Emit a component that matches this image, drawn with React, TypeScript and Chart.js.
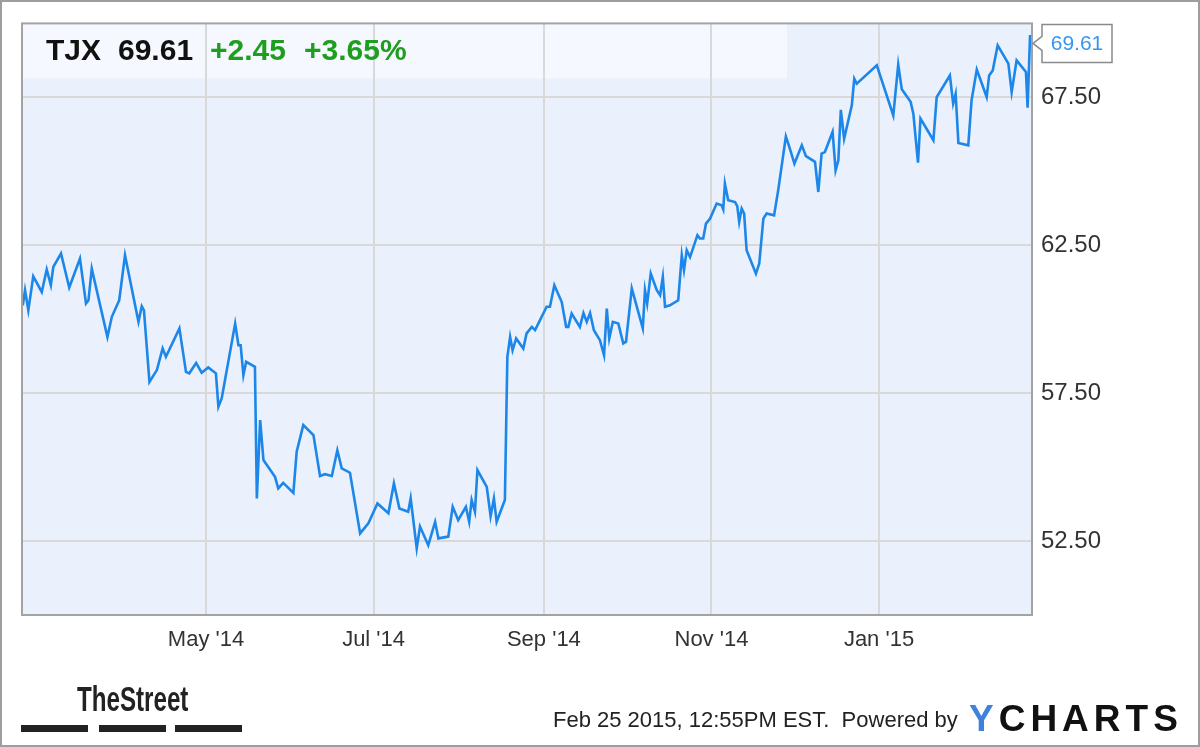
import React, { useEffect, useRef } from "react";
import { Chart, registerables } from "chart.js";

Chart.register(...registerables);

// ---- data ----
const TICKER = "TJX";
const LAST_PRICE = "69.61";
const CHANGE = "+2.45";
const CHANGE_PCT = "+3.65%";
const FOOTER_TEXT = "Feb 25 2015, 12:55PM EST.  Powered by";

// trading-day positions, in days since 2014-01-01
const days = [
  53.3, 54.1, 55.3, 57.1, 60.2, 62.0, 63.5, 64.4, 67.2, 70.2,
  74.1, 76.3, 77.2, 78.4, 84.1, 85.7, 88.4, 90.5, 95.4, 96.6,
  97.4, 99.4, 102.1, 104.2, 105.4, 110.3, 112.7, 113.9, 116.4, 118.4,
  120.8, 123.6, 124.5, 125.7, 130.6, 131.8, 132.6, 133.6, 134.6, 137.8,
  138.5, 139.7, 140.9, 145.1, 146.3, 148.1, 151.8, 153.0, 155.4, 159.1,
  161.5, 163.3, 165.8, 167.8, 169.4, 172.4, 176.1, 179.1, 182.4, 186.4,
  188.4, 190.4, 193.6, 194.5, 196.7, 197.9, 200.9, 203.4, 204.6, 208.2,
  209.8, 211.8, 214.6, 215.8, 216.7, 217.9, 218.8, 222.2, 223.6, 224.8,
  225.8, 228.8, 229.7, 230.7, 231.6, 232.9, 235.5, 236.7, 238.6, 239.8,
  244.0, 245.2, 246.8, 249.5, 251.1, 251.9, 253.1, 256.1, 257.4, 258.6,
  259.8, 261.2, 263.4, 264.9, 265.9, 266.8, 268.1, 270.1, 271.9, 272.9,
  275.0, 279.0, 279.8, 280.6, 281.9, 284.1, 285.3, 286.3, 287.1, 288.9,
  291.9, 293.2, 294.0, 295.0, 296.2, 298.9, 299.8, 301.0, 302.0, 303.5,
  305.9, 307.7, 308.3, 308.9, 310.1, 312.6, 313.4, 314.1, 315.0, 315.9,
  316.8, 320.2, 321.4, 322.9, 324.1, 326.8, 328.3, 331.1, 332.6, 334.2,
  336.9, 338.4, 341.7, 342.9, 344.1, 345.3, 348.1, 349.2, 350.2, 351.1,
  352.3, 355.1, 356.0, 356.9, 364.2, 370.2, 372.0, 373.3, 376.5, 377.5,
  379.2, 380.1, 384.8, 386.0, 390.8, 392.0, 392.9, 393.9, 397.5, 398.7,
  400.6, 404.2, 405.1, 406.4, 408.2, 412.1, 413.3, 415.1, 418.5, 419.1,
  420.0,
];

const prices = [
  60.47, 60.98, 60.30, 61.45, 60.92, 61.68, 61.15, 61.77, 62.22, 61.07,
  62.05, 60.53, 60.64, 61.71, 59.40, 60.08, 60.64, 62.16, 59.91, 60.44,
  60.30, 57.88, 58.28, 59.01, 58.73, 59.69, 58.22, 58.17, 58.52, 58.19,
  58.37, 58.17, 57.04, 57.32, 59.85, 59.12, 59.12, 58.11, 58.56, 58.39,
  53.94, 56.59, 55.24, 54.67, 54.28, 54.47, 54.13, 55.52, 56.42, 56.08,
  54.70, 54.76, 54.70, 55.57, 54.96, 54.81, 52.76, 53.10, 53.77, 53.44,
  54.45, 53.60, 53.49, 53.94, 52.25, 52.99, 52.36, 53.15, 52.59, 52.65,
  53.66, 53.21, 53.66, 53.15, 53.89, 53.49, 54.90, 54.33, 53.34, 53.94,
  53.15, 53.89, 58.73, 59.40, 58.95, 59.35, 59.01, 59.52, 59.74, 59.63,
  60.42, 60.42, 61.15, 60.58, 59.74, 59.74, 60.19, 59.74, 60.21, 59.91,
  60.21, 59.63, 59.29, 58.78, 60.36, 59.35, 59.91, 59.85, 59.18, 59.24,
  61.04, 59.69, 60.98, 60.53, 61.54, 60.98, 60.81, 61.43, 60.42, 60.47,
  60.64, 62.16, 61.66, 62.33, 62.10, 62.84, 62.73, 62.73, 63.23, 63.40,
  63.91, 63.85, 63.71, 64.58, 64.02, 63.96, 63.82, 63.29, 63.74, 63.57,
  62.33, 61.54, 61.88, 63.40, 63.57, 63.51, 64.36, 66.18, 65.75, 65.26,
  65.88, 65.51, 65.32, 64.30, 65.60, 65.65, 66.33, 65.03, 65.37, 67.08,
  66.10, 67.23, 68.13, 67.96, 68.58, 66.89, 68.61, 67.77, 67.35, 66.95,
  65.29, 66.78, 66.05, 67.51, 68.24, 67.29, 67.62, 65.96, 65.88, 67.40,
  68.44, 67.51, 68.24, 68.41, 69.26, 68.64, 67.68, 68.75, 68.36, 67.15,
  69.61,
];

const monthTickDays = [120, 181, 243, 304, 365];
const monthTickLabels = ["May '14", "Jul '14", "Sep '14", "Nov '14", "Jan '15"];
const priceTicks = [52.5, 57.5, 62.5, 67.5];
const X_MIN = 53;
const X_MAX = 420.7;
const Y_MIN = 50;
const Y_MAX = 70;

// ---- styles ----
const W = 1200;
const H = 747;
const FONT = "'Liberation Sans', Arial, sans-serif";
const LINE_COLOR = "#1c87e8";
const PLOT_BG = "#eaf0fc";
const HEADER_BG = "#f5f8fe";
const GRID = "#d9d9d9";
const GREEN = "#1e9e1e";

const decorPlugin = {
  id: "decor",
  beforeDraw(chart: any) {
    const { ctx, chartArea: a } = chart;
    ctx.save();
    ctx.fillStyle = "#ffffff";
    ctx.fillRect(0, 0, W, H);
    ctx.fillStyle = PLOT_BG;
    ctx.fillRect(a.left, a.top, a.right - a.left, a.bottom - a.top);
    ctx.fillStyle = HEADER_BG;
    ctx.fillRect(a.left, a.top, 765, 55);
    ctx.restore();
  },
  afterDraw(chart: any) {
    const { ctx, chartArea: a } = chart;
    ctx.save();
    // plot border
    ctx.strokeStyle = "#a3a3a3";
    ctx.lineWidth = 2;
    ctx.strokeRect(a.left, a.top, a.right - a.left, a.bottom - a.top);

    // header text
    ctx.textBaseline = "alphabetic";
    ctx.textAlign = "left";
    ctx.font = `bold 30px ${FONT}`;
    ctx.fillStyle = "#111";
    ctx.fillText(TICKER, 46, 60);
    ctx.fillText(LAST_PRICE, 118, 60);
    ctx.fillStyle = GREEN;
    ctx.fillText(CHANGE, 210, 60);
    ctx.fillText(CHANGE_PCT, 304, 60);

    // last value callout
    const ys = chart.scales.y;
    const lastVal = prices[prices.length - 1];
    const py = ys.getPixelForValue(lastVal);
    const bh = 38;
    const bw = 70;
    const bl = a.right + 10;
    const cy = Math.max(py, a.top + 1 + bh / 2);
    ctx.beginPath();
    ctx.moveTo(a.right + 1, cy);
    ctx.lineTo(bl, cy - 7);
    ctx.lineTo(bl, cy - bh / 2);
    ctx.lineTo(bl + bw, cy - bh / 2);
    ctx.lineTo(bl + bw, cy + bh / 2);
    ctx.lineTo(bl, cy + bh / 2);
    ctx.lineTo(bl, cy + 7);
    ctx.closePath();
    ctx.fillStyle = "#ffffff";
    ctx.fill();
    ctx.strokeStyle = "#8a8a8a";
    ctx.lineWidth = 1.5;
    ctx.stroke();
    ctx.fillStyle = "#3896ee";
    ctx.font = `21px ${FONT}`;
    ctx.textAlign = "center";
    ctx.textBaseline = "middle";
    ctx.fillText(lastVal.toFixed(2), bl + bw / 2, cy + 1);

    // footer: TheStreet logo
    ctx.save();
    ctx.translate(77, 711);
    ctx.scale(0.69, 1);
    ctx.font = `bold 35px ${FONT}`;
    ctx.fillStyle = "#222";
    ctx.textAlign = "left";
    ctx.textBaseline = "alphabetic";
    ctx.fillText("TheStreet", 0, 0);
    ctx.restore();
    ctx.fillStyle = "#222";
    ctx.fillRect(21, 725, 67, 7);
    ctx.fillRect(99, 725, 67, 7);
    ctx.fillRect(175, 725, 67, 7);

    // footer text
    ctx.font = `22px ${FONT}`;
    ctx.fillStyle = "#222";
    ctx.textAlign = "left";
    ctx.textBaseline = "alphabetic";
    ctx.fillText(FOOTER_TEXT, 553, 727);

    // YCHARTS logo
    ctx.font = `bold 37px ${FONT}`;
    const letters = "YCHARTS".split("");
    let x = 969;
    letters.forEach((ch, i) => {
      ctx.fillStyle = i === 0 ? "#3f82dc" : "#111";
      ctx.fillText(ch, x, 731);
      x += ctx.measureText(ch).width + 5;
    });

    // outer frame
    ctx.strokeStyle = "#9d9d9d";
    ctx.lineWidth = 2;
    ctx.strokeRect(1, 1, W - 2, H - 2);
    ctx.restore();
  },
};

export default function App() {
  const canvasRef = useRef<HTMLCanvasElement | null>(null);

  useEffect(() => {
    const canvas = canvasRef.current;
    if (!canvas) return;
    const chart = new Chart(canvas, {
      type: "line",
      data: {
        datasets: [
          {
            data: days.map((d, i) => ({ x: d, y: prices[i] })),
            borderColor: LINE_COLOR,
            borderWidth: 2.6,
            pointRadius: 0,
            tension: 0,
            fill: false,
          },
        ],
      },
      options: {
        responsive: false,
        animation: false,
        devicePixelRatio: 1,
        layout: { padding: { left: 22, top: 22, right: 0, bottom: 0 } },
        plugins: {
          legend: { display: false },
          tooltip: { enabled: false },
        },
        scales: {
          x: {
            type: "linear",
            min: X_MIN,
            max: X_MAX,
            afterBuildTicks: (s: any) => {
              s.ticks = monthTickDays.map((v) => ({ value: v }));
            },
            afterFit: (s: any) => {
              s.height = 132;
            },
            grid: { color: GRID, lineWidth: 2, drawTicks: false },
            border: { display: false },
            ticks: {
              autoSkip: false,
              maxRotation: 0,
              padding: 12,
              color: "#333",
              font: { family: FONT, size: 22 },
              callback: (v: any) => {
                const i = monthTickDays.indexOf(Number(v));
                return i >= 0 ? monthTickLabels[i] : "";
              },
            },
          },
          y: {
            type: "linear",
            position: "right",
            min: Y_MIN,
            max: Y_MAX,
            afterBuildTicks: (s: any) => {
              s.ticks = priceTicks.map((v) => ({ value: v }));
            },
            afterFit: (s: any) => {
              s.width = 168;
            },
            grid: { color: GRID, lineWidth: 2, drawTicks: false },
            border: { display: false },
            ticks: {
              padding: 9,
              color: "#333",
              font: { family: FONT, size: 24 },
              callback: (v: any) => Number(v).toFixed(2),
            },
          },
        },
      },
      plugins: [decorPlugin],
    });
    return () => chart.destroy();
  }, []);

  return (
    <div style={{ position: "absolute", left: 0, top: 0, width: W, height: H }}>
      <canvas ref={canvasRef} width={W} height={H} style={{ display: "block", width: W, height: H }} />
    </div>
  );
}
